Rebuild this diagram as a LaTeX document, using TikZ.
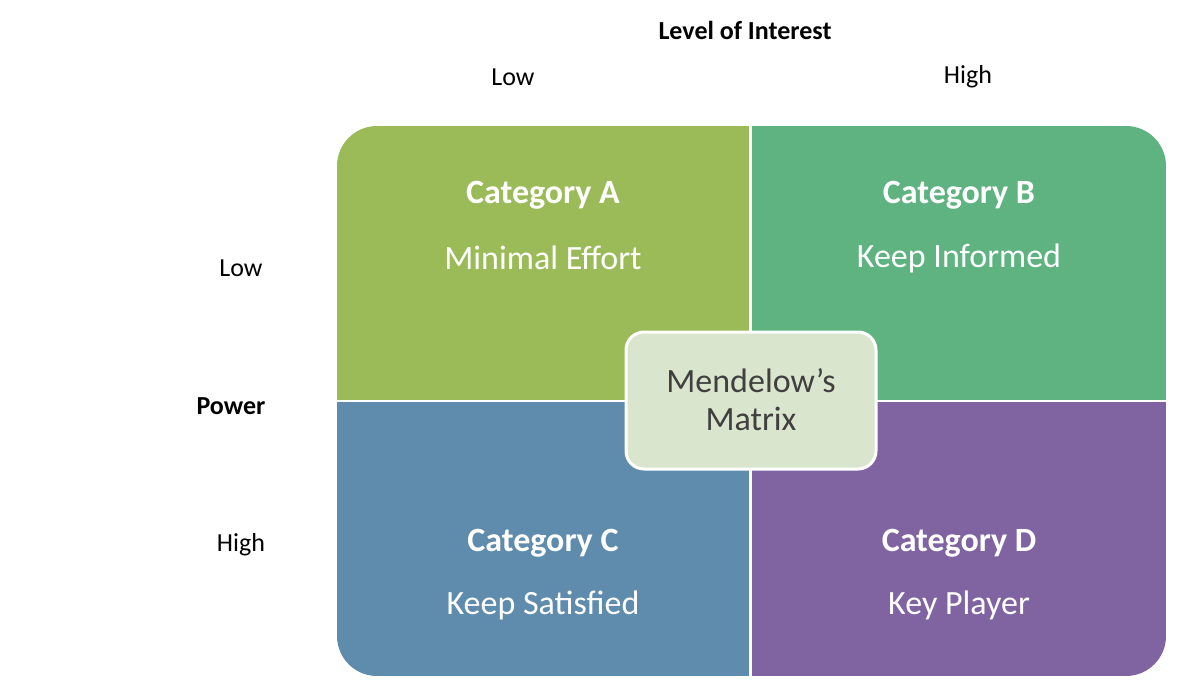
\documentclass[tikz,border=0pt]{standalone}
\usepackage{fontspec}
\setmainfont{Carlito}
\definecolor{cA}{HTML}{9BBB59}
\definecolor{cB}{HTML}{5FB380}
\definecolor{cC}{HTML}{5F8CAD}
\definecolor{cD}{HTML}{8064A2}
\definecolor{cM}{HTML}{D9E5CC}
\definecolor{tM}{HTML}{404040}
\begin{document}
\begin{tikzpicture}[x=1pt,y=-1pt,
  lab/.style={font=\fontsize{26}{30}\selectfont,text=black},
  title/.style={font=\fontsize{34}{40}\selectfont\bfseries,text=white},
  sub/.style={font=\fontsize{34}{40}\selectfont,text=white}]
\useasboundingbox (0,0) rectangle (1200,680);
\fill[white] (0,0) rectangle (1200,680);
\begin{scope}
\clip[rounded corners=40] (337,126) rectangle (1166,676);
\fill[cA] (337,126) rectangle (749,400);
\fill[cB] (752,126) rectangle (1166,400);
\fill[cC] (337,402) rectangle (749,676);
\fill[cD] (752,402) rectangle (1166,676);
\end{scope}
\node[lab,font=\fontsize{26}{30}\selectfont\bfseries] (loi) at (745,30) {Level of Interest};
\node[lab] (lo1) at (513,77) {Low};
\node[lab] (hi1) at (968,77) {High};
\node[lab] (lo2) at (241,268) {Low};
\node[lab,font=\fontsize{26}{30}\selectfont\bfseries] (pw) at (231,406) {Power};
\node[lab] (hi2) at (241,545) {High};
\node[title] (ta) at (543,195) {Category A};
\node[sub] (sa) at (543,258) {Minimal Effort};
\node[title] (tb) at (959,195) {Category B};
\node[sub] (sb) at (959,258) {Keep Informed};
\node[title] (tc) at (543,543) {Category C};
\node[sub] (sc) at (543,605) {Keep Satisfied};
\node[title] (td) at (959,543) {Category D};
\node[sub] (sd) at (959,605) {Key Player};
\draw[white,line width=3,fill=cM,rounded corners=18] (626,332) rectangle (876,469);
\node[font=\fontsize{34}{38}\selectfont,text=tM,align=center] (m) at (751,400) {Mendelow’s\\Matrix};
\end{tikzpicture}
\end{document}
